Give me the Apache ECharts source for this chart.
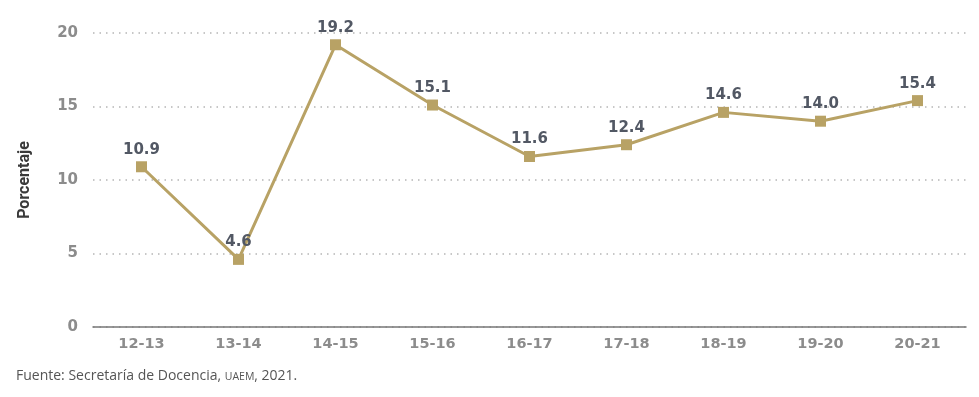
<!DOCTYPE html>
<html>
<head>
<meta charset="utf-8">
<script src="https://cdn.jsdelivr.net/npm/echarts@6/dist/echarts.min.js"></script>
<style>
  html, body { margin: 0; padding: 0; background: #fff; }
  #chart { width: 979px; height: 397px; }
</style>
</head>
<body>
<div id="chart"></div>
<script>
const ciclos = ["12-13", "13-14", "14-15", "15-16", "16-17", "17-18", "18-19", "19-20", "20-21"];
const porcentaje = [10.9, 4.6, 19.2, 15.1, 11.6, 12.4, 14.6, 14.0, 15.4];
const yTicks = [0, 5, 10, 15, 20];

const myChart = echarts.init(document.getElementById("chart"));

const option = {
  animation: false,
  grid: { left: 93, right: 13, top: 33, bottom: 70 },
  xAxis: {
    type: "category",
    data: ciclos,
    boundaryGap: true,
    axisLine: { lineStyle: { color: "#777", width: 1.5 } },
    axisTick: { show: false },
    axisLabel: {
      color: "#8c8c8c",
      fontFamily: "DejaVu Sans",
      fontWeight: "bold",
      fontSize: 14.5,
      margin: 10,
    },
  },
  yAxis: {
    type: "value",
    min: yTicks[0],
    max: yTicks[yTicks.length - 1],
    interval: 5,
    name: "Porcentaje",
    nameLocation: "middle",
    nameRotate: 90,
    nameGap: 60,
    nameTextStyle: {
      color: "#3a3a3a",
      fontFamily: "Roboto",
      fontWeight: "bold",
      fontSize: 16,
    },
    axisLine: { show: false },
    axisTick: { show: false },
    axisLabel: {
      color: "#8c8c8c",
      fontFamily: "DejaVu Sans",
      fontWeight: "bold",
      fontSize: 15,
      margin: 15,
    },
    splitLine: {
      lineStyle: { color: "#b5b5b5", type: [1.5, 5], width: 1.5 },
    },
  },
  series: [
    {
      type: "line",
      data: porcentaje,
      symbol: "rect",
      symbolSize: 11,
      lineStyle: { color: "#b8a265", width: 3 },
      itemStyle: { color: "#b8a265" },
      label: {
        show: true,
        position: "top",
        distance: 4,
        formatter: (p) => p.value.toFixed(1),
        color: "#525864",
        fontFamily: "DejaVu Sans",
        fontWeight: "bold",
        fontSize: 15,
      },
    },
  ],
  graphic: [
    {
      type: "text",
      left: 16,
      top: 369,
      style: {
        text: "Fuente: Secretaría de Docencia, {sc|UAEM}, 2021.",
        fill: "#555",
        font: "14px 'Open Sans'",
        rich: {
          sc: { fill: "#555", font: "10.5px 'Open Sans'", padding: [2, 0, 0, 0] },
        },
      },
    },
  ],
};

option && myChart.setOption(option);
</script>
</body>
</html>
